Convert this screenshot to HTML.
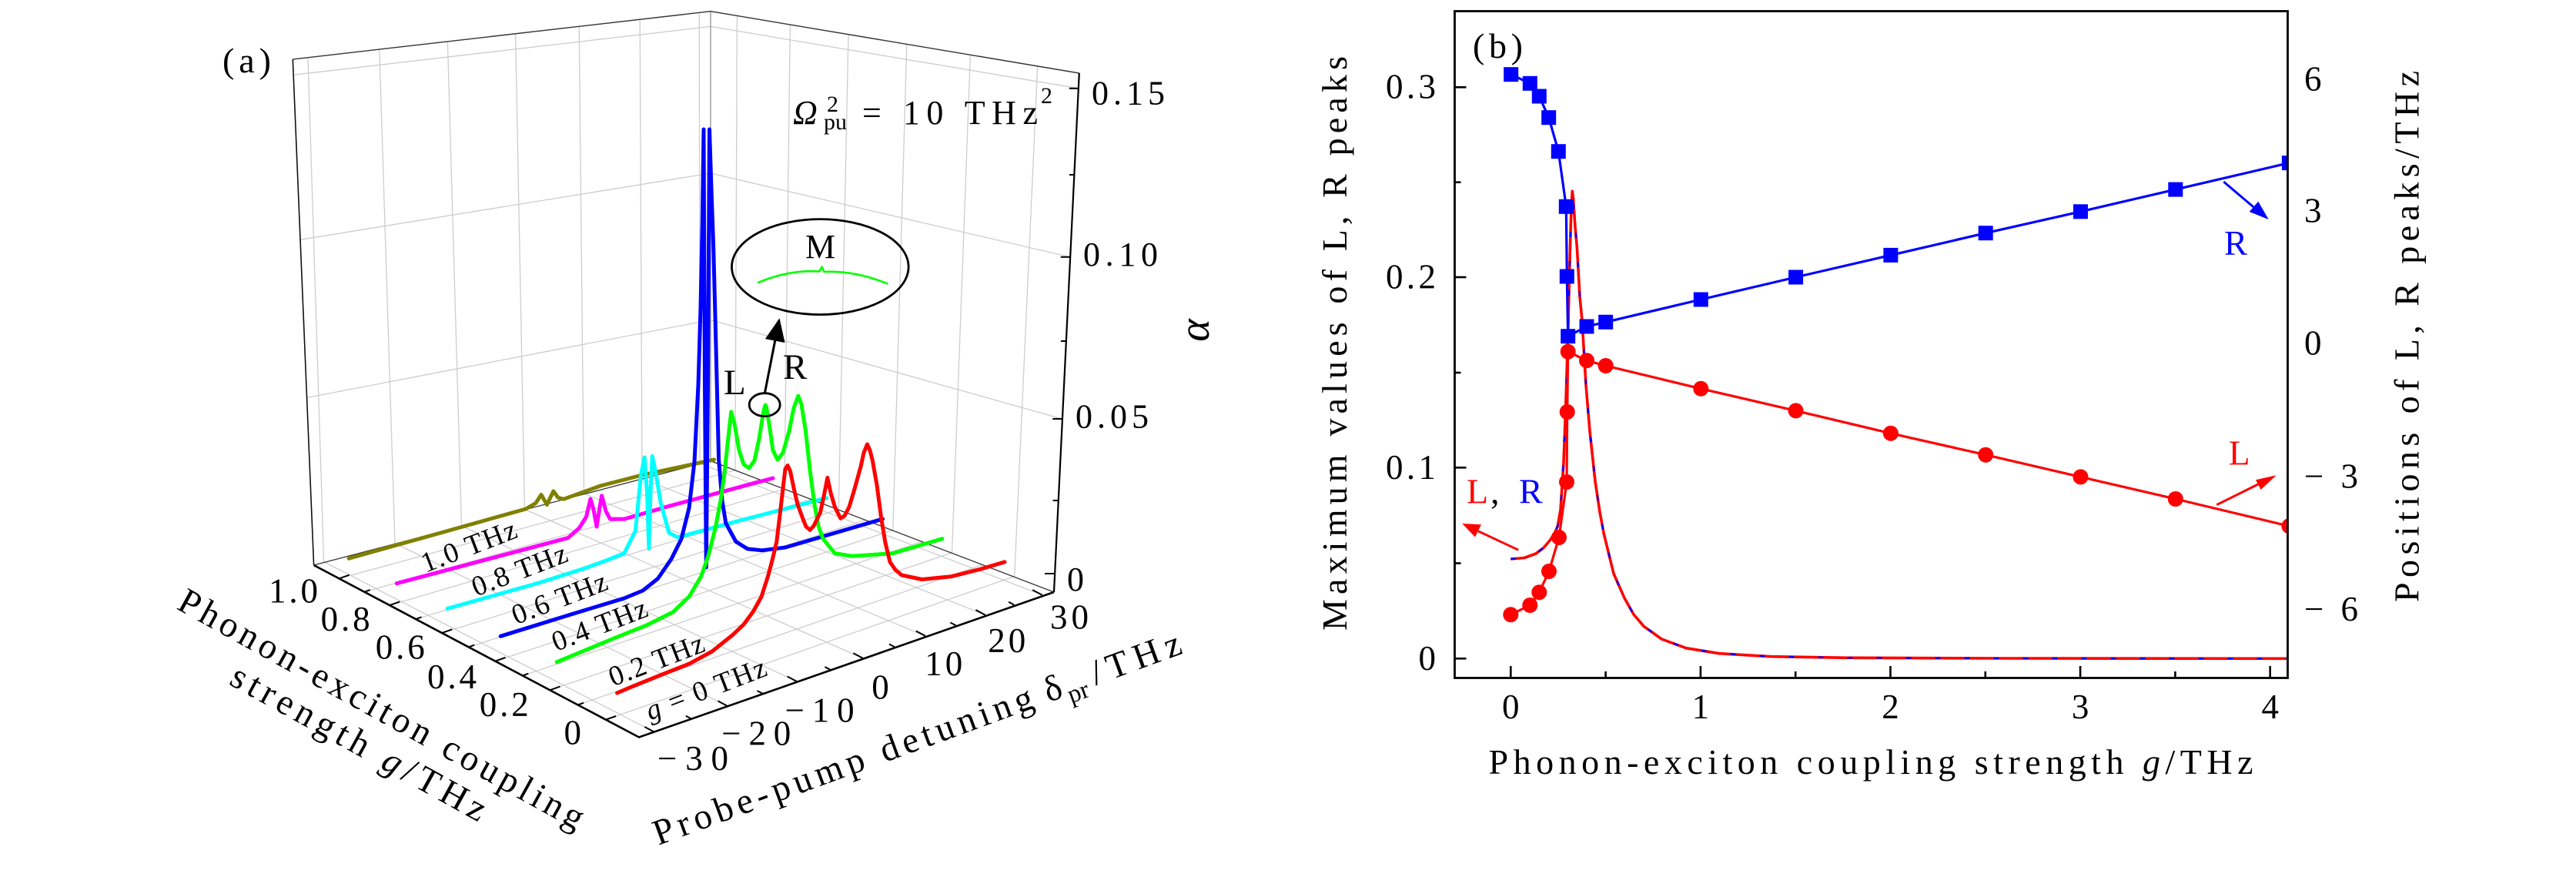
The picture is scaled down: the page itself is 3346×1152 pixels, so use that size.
<!DOCTYPE html>
<html><head><meta charset="utf-8"><style>
html,body{margin:0;padding:0;background:#fff;}
svg{display:block;}
text{font-family:"Liberation Serif","DejaVu Serif",serif;fill:#000;}
</style></head><body>
<svg width="3346" height="1152" viewBox="0 0 3346 1152" xmlns="http://www.w3.org/2000/svg">
<rect width="3346" height="1152" fill="#fff"/>
<defs>
<clipPath id="cb"><rect x="1889" y="14" width="1082.5" height="866.5"/></clipPath>
</defs>

<!-- ================= PANEL (a) ================= -->
<!-- wall gridlines -->
<g stroke="#cdcdcd" stroke-width="1.3" fill="none">
<line x1="400" y1="74.7" x2="420.6" y2="729.5"/>
<line x1="492.8" y1="64.1" x2="513" y2="705.5"/>
<line x1="581.4" y1="53.9" x2="599.5" y2="683"/>
<line x1="669.6" y1="43.8" x2="681.5" y2="661.5"/>
<line x1="752.2" y1="34.3" x2="758.5" y2="641"/>
<line x1="831.2" y1="25.2" x2="834" y2="621.5"/>
<line x1="908.3" y1="16.4" x2="909" y2="602"/>
<line x1="381.1" y1="97.3" x2="923" y2="34.4"/>
<line x1="390" y1="311.3" x2="923" y2="225"/>
<line x1="398.6" y1="516.5" x2="923" y2="415.5"/>
<line x1="957.4" y1="20.5" x2="954.9" y2="610.7"/>
<line x1="1026.3" y1="32.1" x2="1019" y2="635.1"/>
<line x1="1102" y1="44.8" x2="1089.3" y2="661.8"/>
<line x1="1177.8" y1="57.5" x2="1159.8" y2="688.5"/>
<line x1="1260.4" y1="71.3" x2="1236.5" y2="717.7"/>
<line x1="1347.7" y1="86" x2="1317.7" y2="748.5"/>
<line x1="923" y1="34.4" x2="1400.8" y2="114.8"/>
<line x1="923" y1="225" x2="1389.8" y2="333.8"/>
<line x1="923" y1="415.5" x2="1379.3" y2="544"/>
<!-- floor grid -->
<line x1="849.7" y1="950.6" x2="420.6" y2="729.5"/>
<line x1="944.9" y1="917" x2="513" y2="705.5"/>
<line x1="1035.1" y1="885.1" x2="599.5" y2="683"/>
<line x1="1120.8" y1="854.9" x2="681.5" y2="661.5"/>
<line x1="1202.2" y1="826.1" x2="758.5" y2="641"/>
<line x1="1279.8" y1="798.7" x2="834" y2="621.5"/>
<line x1="1353.6" y1="772.7" x2="909" y2="602"/>
<line x1="440.5" y1="751.4" x2="954.9" y2="610.7"/>
<line x1="473.3" y1="768.8" x2="987" y2="622.9"/>
<line x1="506" y1="786.1" x2="1019" y2="635.1"/>
<line x1="540" y1="804.1" x2="1054.2" y2="648.5"/>
<line x1="574" y1="822.1" x2="1089.3" y2="661.8"/>
<line x1="608.7" y1="840.4" x2="1124.6" y2="675.2"/>
<line x1="643.3" y1="858.7" x2="1159.8" y2="688.5"/>
<line x1="678.8" y1="877.5" x2="1198.2" y2="703.1"/>
<line x1="714.3" y1="896.3" x2="1236.5" y2="717.7"/>
<line x1="750.6" y1="915.5" x2="1277.1" y2="733.1"/>
<line x1="786.9" y1="934.7" x2="1317.7" y2="748.5"/>
</g>
<!-- back edge & box -->
<line x1="923" y1="14.7" x2="923" y2="598.6" stroke="#9a9a9a" stroke-width="1.4"/>
<polyline points="380.3,77 923,14.7 1401.8,95" fill="none" stroke="#333" stroke-width="1.4"/>
<polyline points="407.6,734 923,598.6 1369,769" fill="none" stroke="#333" stroke-width="1.3"/>
<line x1="380.3" y1="77" x2="407.6" y2="734" stroke="#111" stroke-width="1.6"/>
<line x1="1401.8" y1="95" x2="1369" y2="769" stroke="#000" stroke-width="2.2"/>
<polyline points="407.6,734 830,957.5 1369,769" fill="none" stroke="#000" stroke-width="2.6"/>

<!-- z ticks -->
<g stroke="#000" stroke-width="2">
<line x1="1400.8" y1="114.8" x2="1388.8" y2="114.8"/>
<line x1="1396" y1="227" x2="1389" y2="227"/>
<line x1="1389.8" y1="333.8" x2="1377.8" y2="333.8"/>
<line x1="1385" y1="443" x2="1378" y2="443"/>
<line x1="1379.3" y1="544" x2="1367.3" y2="544"/>
<line x1="1374.6" y1="650" x2="1367.6" y2="650"/>
<line x1="1369.1" y1="745" x2="1357.1" y2="745"/>
</g>
<!-- g ticks on L-F edge (inward along +delta dir (0.943,-0.333)) -->
<g stroke="#000" stroke-width="2">
<line x1="440.5" y1="751.4" x2="453.7" y2="746.7"/>
<line x1="473.3" y1="768.8" x2="480.8" y2="766.1"/>
<line x1="506" y1="786.1" x2="519.2" y2="781.4"/>
<line x1="540" y1="804.1" x2="547.5" y2="801.4"/>
<line x1="574" y1="822.1" x2="587.2" y2="817.4"/>
<line x1="608.7" y1="840.4" x2="616.2" y2="837.7"/>
<line x1="643.3" y1="858.7" x2="656.5" y2="854"/>
<line x1="678.8" y1="877.5" x2="686.3" y2="874.8"/>
<line x1="714.3" y1="896.3" x2="727.5" y2="891.6"/>
<line x1="750.6" y1="915.5" x2="758.1" y2="912.8"/>
<line x1="786.9" y1="934.7" x2="800.1" y2="930"/>
</g>
<!-- delta ticks on F-R edge (inward along (-0.884,-0.468)) -->
<g stroke="#000" stroke-width="2">
<line x1="849.7" y1="950.6" x2="837.3" y2="944"/>
<line x1="897.9" y1="933.5" x2="890.8" y2="929.8"/>
<line x1="944.9" y1="917" x2="932.5" y2="910.4"/>
<line x1="990.6" y1="900.8" x2="983.5" y2="897.1"/>
<line x1="1035.1" y1="885.1" x2="1022.7" y2="878.5"/>
<line x1="1078.5" y1="869.8" x2="1071.4" y2="866.1"/>
<line x1="1120.8" y1="854.9" x2="1108.4" y2="848.3"/>
<line x1="1162.1" y1="840.3" x2="1155" y2="836.6"/>
<line x1="1202.2" y1="826.1" x2="1189.8" y2="819.5"/>
<line x1="1241.5" y1="812.2" x2="1234.4" y2="808.5"/>
<line x1="1279.8" y1="798.7" x2="1267.4" y2="792.1"/>
<line x1="1317.2" y1="785.5" x2="1310.1" y2="781.8"/>
<line x1="1353.6" y1="772.7" x2="1341.2" y2="766.1"/>
</g>

<!-- curves -->
<g fill="none" stroke-width="5" stroke-linejoin="round" stroke-linecap="round">
<polyline stroke="#808000" points="453.2,725.2 560,695.5 683,661 695.8,653.5 703,642.5 710.4,655.5 718.8,638 725,646.4 732.3,648.2 780,631 832,617.5 927.5,597"/>
<polyline stroke="#ff00ff" points="515.2,757.7 737.8,698.6 752.4,685.8 761.5,671.2 767,648 771,662 775,684 778.5,662 781.6,643.8 787,663.9 792.5,674.1 810.8,674.1 872,656.5 1004,621"/>
<polyline stroke="#00ffff" points="581,790.5 700,757 760,738 790,727 810.8,718.6 825.4,689.4 832.6,616.5 837.2,594 840.5,640 842.9,712.5 845,640 847.2,592.5 852,615 858.2,653 869,692 880.4,697.8 950,679 1073.7,646.8"/>
<polyline stroke="#0000ff" points="650.2,826.3 740,798.5 810.8,777 835,767 854.5,751.5 872,726 885,700 895,660 902,600 907,500 910,400 912.3,290 914,168 915.5,500 917.3,737 919.5,500 921.5,168 924.5,260 926.7,321.4 930,450 933.6,597 938,650 942.8,679.5 955.9,703.5 971,712.9 989.9,714.8 1020,711 1146.5,674"/>
<polyline stroke="#00ff00" points="723.2,859.8 800,828 840,812 874,795 895,775 910.6,748.8 920,722 929.5,684.6 936,650 940.8,616.6 946,568 949.7,535 954,550 960,585 966,603 973,608 980,598 986,570 990,545 993,529 994.2,526 995.5,529 999,550 1004,585 1010,597 1017,588 1025,560 1031,530 1036.8,514.2 1041,525 1046.5,560 1052,610 1057.8,654.4 1063,683 1069,699.7 1084.3,718.6 1107,722.3 1159.8,718.6 1224,699.7"/>
<polyline stroke="#ff0000" points="801.6,900 820,892.2 860,876 895.5,862 925,846 952,824.3 966,811 978.5,794 989,775 997.4,748.8 1003,728 1008.8,703.5 1014,660 1020,609 1023.1,604.5 1026.5,612 1031.4,635.5 1036,655 1042.7,673.3 1047,684 1052.2,688.4 1057,683 1065.4,665.7 1070,645 1074.8,620.4 1079,640 1084.3,658.1 1091.8,673.3 1097,670 1103.1,658.1 1110,635 1118.2,605.3 1122,588 1126.5,577 1130,585 1133.3,597.8 1139,630 1144.7,673.3 1150,705 1156,729.9 1163,740 1171.1,746.9 1197.5,752.5 1235.3,748.8 1273,739.3 1305,729.9"/>
</g>

<!-- M annotation -->
<ellipse cx="993.2" cy="525.7" rx="20" ry="15" fill="none" stroke="#000" stroke-width="2.8"/>
<line x1="993.5" y1="510" x2="1006.7" y2="442.6" stroke="#000" stroke-width="3"/>
<polygon points="1012.5,413.2 1019.5,445.1 993.9,440.1" fill="#000"/>
<ellipse cx="1065.3" cy="346.6" rx="114.8" ry="62" fill="none" stroke="#000" stroke-width="2.8"/>
<path d="M984,367.3 Q1025,350 1064,352.5 L1067.6,347 L1070.5,353 Q1110,351 1153.4,368.7" fill="none" stroke="#00ff00" stroke-width="2.6"/>
<text x="1046" y="335" font-size="44" textLength="43">M</text>
<text x="940" y="512" font-size="47">L</text>
<text x="1017" y="492" font-size="47">R</text>

<!-- Omega label -->
<text x="1030" y="161" font-size="44" font-style="italic">Ω</text>
<text x="1074" y="145" font-size="30">2</text>
<text x="1070" y="168" font-size="30">pu</text>
<text x="1120" y="161" font-size="44" textLength="228">= 10  THz</text>
<text x="1352" y="134" font-size="30">2</text>

<!-- (a) -->
<text x="289" y="94" font-size="46" textLength="63">(a)</text>

<!-- z tick labels -->
<g font-size="44">
<text x="1418" y="135.4" textLength="95">0.15</text>
<text x="1407" y="345" textLength="97">0.10</text>
<text x="1397" y="555.5" textLength="95">0.05</text>
<text x="1386" y="767">0</text>
</g>
<text transform="translate(1570,429) rotate(-90)" text-anchor="middle" font-size="56" font-style="italic">α</text>

<!-- g tick labels -->
<g font-size="45" text-anchor="end">
<text x="413" y="782.5" textLength="64">1.0</text>
<text x="480.6" y="819" textLength="64">0.8</text>
<text x="551.7" y="855.4" textLength="64">0.6</text>
<text x="619" y="893.8" textLength="64">0.4</text>
<text x="686.7" y="930.2" textLength="64">0.2</text>
<text x="755" y="966.7">0</text>
</g>
<!-- delta tick labels -->
<g font-size="45" text-anchor="middle">
<text x="900" y="1000" textLength="92">−30</text>
<text x="982.3" y="967.7" textLength="90">−20</text>
<text x="1064.6" y="937.5" textLength="90">−10</text>
<text x="1143.5" y="907.3">0</text>
<text x="1225.8" y="877" textLength="49">10</text>
<text x="1307.7" y="847" textLength="49">20</text>
<text x="1389" y="816.7" textLength="50">30</text>
</g>

<!-- curve labels on floor -->
<g font-size="37" text-anchor="middle">
<text transform="translate(609,709.5) rotate(-21)" y="12" textLength="130">1.0 THz</text>
<text transform="translate(674.7,740.5) rotate(-21)" y="12" textLength="130">0.8 THz</text>
<text transform="translate(726.8,777) rotate(-21)" y="12" textLength="130">0.6 THz</text>
<text transform="translate(778.7,811.7) rotate(-21)" y="12" textLength="130">0.4 THz</text>
<text transform="translate(852.6,857.3) rotate(-21)" y="12" textLength="130">0.2 THz</text>
<text transform="translate(917,895) rotate(-21)" y="12" textLength="165"><tspan font-style="italic">g</tspan> = 0 THz</text>
</g>

<!-- g axis label -->
<text transform="translate(228,790) rotate(29)" font-size="47" textLength="595">Phonon-exciton coupling</text>
<text transform="translate(296,888) rotate(28.9)" font-size="47" textLength="372">strength <tspan font-style="italic">g</tspan>/THz</text>

<!-- delta axis label -->
<g transform="translate(855,1098) rotate(-20.1)" font-size="47">
<text x="0" y="0" textLength="522">Probe-pump detuning</text>
<text x="540" y="0">δ</text>
<text x="567" y="11" font-size="33">pr</text>
<text x="605" y="0" textLength="122">/THz</text>
</g>

<!-- ================= PANEL (b) ================= -->
<g clip-path="url(#cb)">
<!-- max value curves -->
<polyline fill="none" stroke="#ff0000" stroke-width="3.6" stroke-linejoin="round" points="1962.3,726 1980,724.5 1995,719 2005,711.5 2013.3,701.7 2019,693 2023.3,683.3 2027,662 2031,600 2034,520 2037,420 2039.5,320 2041,268 2042.3,248.3 2043.5,258 2046,295 2048.3,320 2052,385 2055,416.7 2060,500 2065,560 2072,625 2078,665 2083.3,693.3 2096,745 2110,776.7 2122,798 2135,813.3 2158.3,830 2190,841.7 2233,848.7 2300,852.7 2400,854.3 2600,855 2975,855.3"/>
<polyline fill="none" stroke="#0000ff" stroke-width="2.4" stroke-dasharray="7 31" points="1962.3,726 1980,724.5 1995,719 2005,711.5 2013.3,701.7 2019,693 2023.3,683.3 2027,662 2031,600 2034,520 2037,420 2039.5,320 2041,268 2042.3,248.3 2043.5,258 2046,295 2048.3,320 2052,385 2055,416.7 2060,500 2065,560 2072,625 2078,665 2083.3,693.3 2096,745 2110,776.7 2122,798 2135,813.3 2158.3,830 2190,841.7 2233,848.7 2300,852.7 2400,854.3 2600,855 2975,855.3"/>
<!-- R positions (blue) -->
<polyline fill="none" stroke="#0000ff" stroke-width="3.2" stroke-linejoin="round" points="1962.7,96.7 1987.3,108.3 1999.3,125 2011.7,152.7 2024.3,196.7 2034.3,268.3 2035.3,359 2036.7,436.7 2061,424 2085.7,418.3 2209.3,389 2332.6,360 2455.9,331.4 2579.2,302.7 2702.5,274.8 2825.8,246.1 2973.4,211.6"/>
<g fill="#0000ff">
<rect x="1953.2" y="87.2" width="19" height="19"/>
<rect x="1977.8" y="98.8" width="19" height="19"/>
<rect x="1989.8" y="115.5" width="19" height="19"/>
<rect x="2002.2" y="143.2" width="19" height="19"/>
<rect x="2014.8" y="187.2" width="19" height="19"/>
<rect x="2024.8" y="258.8" width="19" height="19"/>
<rect x="2025.8" y="349.5" width="19" height="19"/>
<rect x="2027.2" y="427.2" width="19" height="19"/>
<rect x="2051.5" y="414.5" width="19" height="19"/>
<rect x="2076.2" y="408.8" width="19" height="19"/>
<rect x="2199.8" y="379.5" width="19" height="19"/>
<rect x="2323.1" y="350.5" width="19" height="19"/>
<rect x="2446.4" y="321.9" width="19" height="19"/>
<rect x="2569.7" y="293.2" width="19" height="19"/>
<rect x="2693" y="265.3" width="19" height="19"/>
<rect x="2816.3" y="236.6" width="19" height="19"/>
<rect x="2963.9" y="202.1" width="19" height="19"/>
</g>
<!-- L positions (red) -->
<polyline fill="none" stroke="#ff0000" stroke-width="3.2" stroke-linejoin="round" points="1962.3,798.3 1987.3,786 1999.3,769.3 2012,742 2025,698 2035,626 2035.7,535 2036.7,456.7 2061,468.3 2085.7,475 2209.3,504.8 2332.6,533.4 2455.9,562.8 2579.2,590.7 2702.5,619.4 2825.8,648 2973.4,683.3"/>
<g fill="#ff0000">
<circle cx="1962.3" cy="798.3" r="10"/>
<circle cx="1987.3" cy="786" r="10"/>
<circle cx="1999.3" cy="769.3" r="10"/>
<circle cx="2012" cy="742" r="10"/>
<circle cx="2025" cy="698" r="10"/>
<circle cx="2035" cy="626" r="10"/>
<circle cx="2035.7" cy="535" r="10"/>
<circle cx="2036.7" cy="456.7" r="10"/>
<circle cx="2061" cy="468.3" r="10"/>
<circle cx="2085.7" cy="475" r="10"/>
<circle cx="2209.3" cy="504.8" r="10"/>
<circle cx="2332.6" cy="533.4" r="10"/>
<circle cx="2455.9" cy="562.8" r="10"/>
<circle cx="2579.2" cy="590.7" r="10"/>
<circle cx="2702.5" cy="619.4" r="10"/>
<circle cx="2825.8" cy="648" r="10"/>
<circle cx="2973.4" cy="683.3" r="10"/>
</g>
</g>

<!-- box -->
<rect x="1889.5" y="14.5" width="1082" height="866" fill="none" stroke="#000" stroke-width="2.8"/>
<!-- left ticks -->
<g stroke="#000" stroke-width="2.6">
<line x1="1889.5" y1="113.3" x2="1904.5" y2="113.3"/>
<line x1="1889.5" y1="236.7" x2="1897.5" y2="236.7"/>
<line x1="1889.5" y1="360" x2="1904.5" y2="360"/>
<line x1="1889.5" y1="484" x2="1897.5" y2="484"/>
<line x1="1889.5" y1="607.3" x2="1904.5" y2="607.3"/>
<line x1="1889.5" y1="731.5" x2="1897.5" y2="731.5"/>
<line x1="1889.5" y1="855.3" x2="1904.5" y2="855.3"/>
<!-- bottom ticks -->
<line x1="1962.3" y1="880.5" x2="1962.3" y2="865"/>
<line x1="2085.6" y1="880.5" x2="2085.6" y2="872"/>
<line x1="2208.9" y1="880.5" x2="2208.9" y2="865"/>
<line x1="2332.2" y1="880.5" x2="2332.2" y2="872"/>
<line x1="2455.5" y1="880.5" x2="2455.5" y2="865"/>
<line x1="2578.8" y1="880.5" x2="2578.8" y2="872"/>
<line x1="2702.1" y1="880.5" x2="2702.1" y2="865"/>
<line x1="2825.4" y1="880.5" x2="2825.4" y2="872"/>
<line x1="2948.7" y1="880.5" x2="2948.7" y2="865"/>
</g>
<!-- left tick labels -->
<g font-size="45" text-anchor="end">
<text x="1865" y="127.5" textLength="65">0.3</text>
<text x="1865" y="374.5" textLength="65">0.2</text>
<text x="1865" y="622" textLength="65">0.1</text>
<text x="1865" y="870">0</text>
</g>
<!-- bottom tick labels -->
<g font-size="45" text-anchor="middle">
<text x="1962.3" y="933">0</text>
<text x="2208.9" y="933">1</text>
<text x="2455.5" y="933">2</text>
<text x="2702.1" y="933">3</text>
<text x="2948.7" y="933">4</text>
</g>
<!-- right tick labels -->
<g font-size="45">
<text x="2993" y="117.5">6</text>
<text x="2993" y="288.5">3</text>
<text x="2993" y="460.7">0</text>
<text x="2993" y="633.5" textLength="70">−3</text>
<text x="2993" y="806" textLength="70">−6</text>
</g>
<!-- axis labels -->
<text x="2430" y="1005" font-size="46" text-anchor="middle" textLength="993">Phonon-exciton coupling strength <tspan font-style="italic">g</tspan>/THz</text>
<text transform="translate(1749,446) rotate(-90)" font-size="46" text-anchor="middle" textLength="746">Maximum values of L, R peaks</text>
<text transform="translate(3141.7,437) rotate(-90)" font-size="46" text-anchor="middle" textLength="690">Positions of L, R peaks/THz</text>
<!-- (b) -->
<text x="1913" y="75" font-size="46" textLength="65">(b)</text>

<!-- annotations -->
<line x1="2888.3" y1="236" x2="2927" y2="268.8" stroke="#0000ff" stroke-width="3"/>
<polygon points="2946.7,285 2921.7,275 2933.3,261.7" fill="#0000ff"/>
<text x="2889" y="331" font-size="45" fill="#0000ff" style="fill:#0000ff">R</text>

<line x1="2879.3" y1="655.7" x2="2934" y2="628.5" stroke="#ff0000" stroke-width="3"/>
<polygon points="2956.7,617.3 2930,623.3 2936.7,636" fill="#ff0000"/>
<text x="2895" y="603.3" font-size="45" style="fill:#ff0000">L</text>

<line x1="1972.3" y1="714.3" x2="1920" y2="689.8" stroke="#ff0000" stroke-width="3"/>
<polygon points="1899.3,680 1924,681.2 1916,697.5" fill="#ff0000"/>
<text x="1905" y="653.3" font-size="46" style="fill:#ff0000">L</text>
<text x="1936" y="653.3" font-size="46">,</text>
<text x="1973" y="653.3" font-size="46" style="fill:#0000ff">R</text>
</svg>
</body></html>
